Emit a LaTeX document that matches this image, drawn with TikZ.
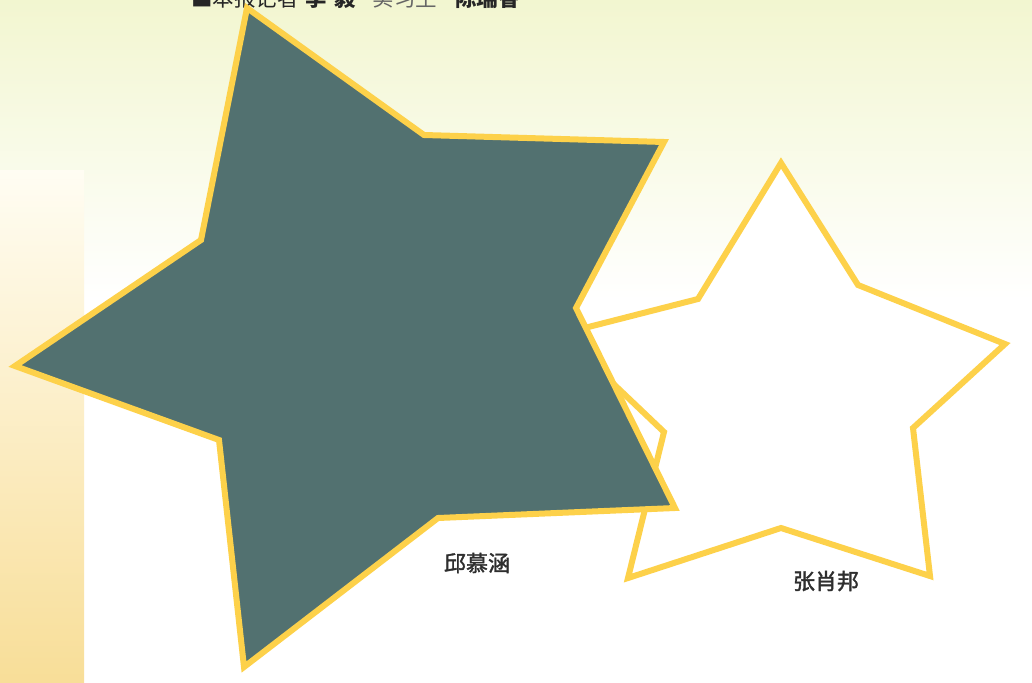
\documentclass[tikz,border=0pt]{standalone}
\usepackage{fontspec}
\newfontfamily\cjk{Noto Sans CJK SC}
\newfontfamily\cjkmed[FakeBold=1.6]{Noto Sans CJK SC}
\definecolor{bgtop}{HTML}{F2F6D0}
\definecolor{striptop}{HTML}{FFFDF3}
\definecolor{stripbot}{HTML}{F8DE98}
\definecolor{starfill}{HTML}{527170}
\definecolor{starline}{HTML}{FDD14A}
\definecolor{txt}{HTML}{2E2E2E}
\begin{document}
\begin{tikzpicture}[x=1pt,y=-1pt,
  starshape/.style={draw=starline,line width=6pt,line join=miter},
  label/.style={font=\cjkmed\fontsize{22}{24}\selectfont,text=txt,inner sep=0pt}]
\useasboundingbox (0,0) rectangle (1032,682);
\clip (0,0) rectangle (1032,682);
\fill[white] (0,0) rectangle (1032,682);
\shade[top color=bgtop,bottom color=white] (0,0) rectangle (1032,300);
\shade[top color=striptop,bottom color=stripbot] (0,170) rectangle (84,682);
% byline
\node[anchor=base west,font=\cjk\fontsize{21.5}{23}\selectfont,text=black!85,inner sep=0pt] (byline) at (191,7)
  {■本报记者\hspace{7pt}\textbf{李}\hspace{7pt}\textbf{毅}\hspace{17pt}{\color{black!60}实习生}\hspace{18pt}\textbf{陈瑞香}};
% small star
\draw[starshape,fill=white] (781,163) -- (858,285) -- (1005,344) -- (913,428) -- (930,576) -- (781,528) -- (628,578) -- (664,432) -- (561,334) -- (698,299) -- cycle;
% big star
\draw[starshape,fill=starfill] (247,8) -- (424,135) -- (664,142) -- (576,308) -- (675,508) -- (438,518) -- (244,667) -- (219,440) -- (15,366) -- (201,240) -- cycle;
% labels
\node[label] (qiu) at (477,563) {邱慕涵};
\node[label] (zhang) at (826,581) {张肖邦};
\end{tikzpicture}
\end{document}
